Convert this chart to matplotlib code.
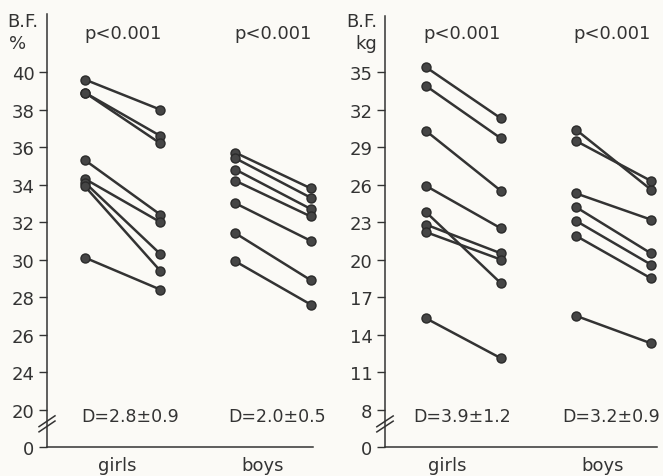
import numpy as np
import matplotlib.pyplot as plt

# body fat in %, before / after
pct_girls_pre = [39.6, 38.9, 38.9, 35.3, 34.3, 34.1, 33.9, 30.1]
pct_girls_post = [38.0, 36.6, 36.2, 32.4, 32.0, 30.3, 29.4, 28.4]
pct_boys_pre = [35.7, 35.4, 34.8, 34.2, 33.0, 31.4, 29.9]
pct_boys_post = [33.8, 33.3, 32.7, 32.3, 31.0, 28.9, 27.6]

# body fat in kg, before / after
kg_girls_pre = [35.4, 33.9, 30.3, 25.9, 23.8, 22.8, 22.2, 15.3]
kg_girls_post = [31.3, 29.7, 25.5, 22.5, 18.1, 20.5, 20.0, 12.1]
kg_boys_pre = [30.4, 29.5, 25.3, 24.2, 23.1, 21.9, 15.5]
kg_boys_post = [25.6, 26.3, 23.2, 20.5, 19.6, 18.5, 13.3]

groups = ["girls", "boys"]
p_texts = ["p<0.001", "p<0.001"]
d_pct = ["D=2.8±0.9", "D=2.0±0.5"]
d_kg = ["D=3.9±1.2", "D=3.2±0.9"]

# broken axis: tick positions and the labels shown on them
pct_ticks = [20, 22, 24, 26, 28, 30, 32, 34, 36, 38, 40]
pct_labels = ["0", "20", "24", "26", "28", "30", "32", "34", "36", "38", "40"]
kg_ticks = [5, 8, 11, 14, 17, 20, 23, 26, 29, 32, 35]
kg_labels = ["0", "8", "11", "14", "17", "20", "23", "26", "29", "32", "35"]

ink = "#333333"
paper = "#fbfaf6"
W, H = 663, 477

fig = plt.figure(figsize=(W / 100, H / 100), dpi=100, facecolor=paper)


def ftext(x, y, s, **kw):
    # text placed in figure pixels from top-left
    fig.text(x / W, 1 - y / H, s, color=ink, va="center", **kw)


def panel(x0, x1, y0, y1, xlim, ylim, ticks, labels,
          gpre, gpost, bpre, bpost):
    ax = fig.add_axes([x0 / W, 1 - y1 / H, (x1 - x0) / W, (y1 - y0) / H])
    ax.set_facecolor(paper)
    for a, b in zip(gpre, gpost):
        ax.plot([0, 1], [a, b], color=ink, lw=1.8, marker="o", ms=6.5,
                mfc="#454545", mec="#2a2a2a", clip_on=False)
    for a, b in zip(bpre, bpost):
        ax.plot([2, 3], [a, b], color=ink, lw=1.8, marker="o", ms=6.5,
                mfc="#454545", mec="#2a2a2a", clip_on=False)
    ax.set_xlim(*xlim)
    ax.set_ylim(*ylim)
    ax.set_yticks(ticks)
    ax.set_yticklabels(labels)
    ax.set_xticks([])
    ax.tick_params(axis="y", colors=ink, labelsize=13, length=6, width=1,
                   pad=3, direction="out")
    for s in ["top", "right"]:
        ax.spines[s].set_visible(False)
    for s in ["left", "bottom"]:
        ax.spines[s].set_color(ink)
        ax.spines[s].set_linewidth(1.1)
    # break marks on the y axis
    for dy in (0.0, 0.012):
        ax.plot([-0.03, 0.03], [0.035 + dy, 0.06 + dy], transform=ax.transAxes,
                color=ink, lw=1.1, clip_on=False)
    return ax


panel(47, 313, 15, 448, (-0.505, 3.03), (20, 43.1), pct_ticks, pct_labels,
      pct_girls_pre, pct_girls_post, pct_boys_pre, pct_boys_post)
panel(385, 657, 17, 448, (-0.547, 3.08), (5, 39.5), kg_ticks, kg_labels,
      kg_girls_pre, kg_girls_post, kg_boys_pre, kg_boys_post)

# unit labels
ftext(7, 22, "B.F.", ha="left", fontsize=13)
ftext(9, 44, "%", ha="left", fontsize=13)
ftext(346, 22, "B.F.", ha="left", fontsize=13)
ftext(355, 44, "kg", ha="left", fontsize=13)

# p values, differences, group names
for x, s in zip([123, 273, 462, 612], p_texts * 2):
    ftext(x, 34, s, ha="center", fontsize=13)
for x, s in zip([130, 277, 462, 611], d_pct + d_kg):
    ftext(x, 417, s, ha="center", fontsize=12.5)
for x, s in zip([117, 263, 447, 603], groups * 2):
    ftext(x, 466, s, ha="center", fontsize=13)

fig.savefig("out.png", dpi=100, facecolor=paper)
